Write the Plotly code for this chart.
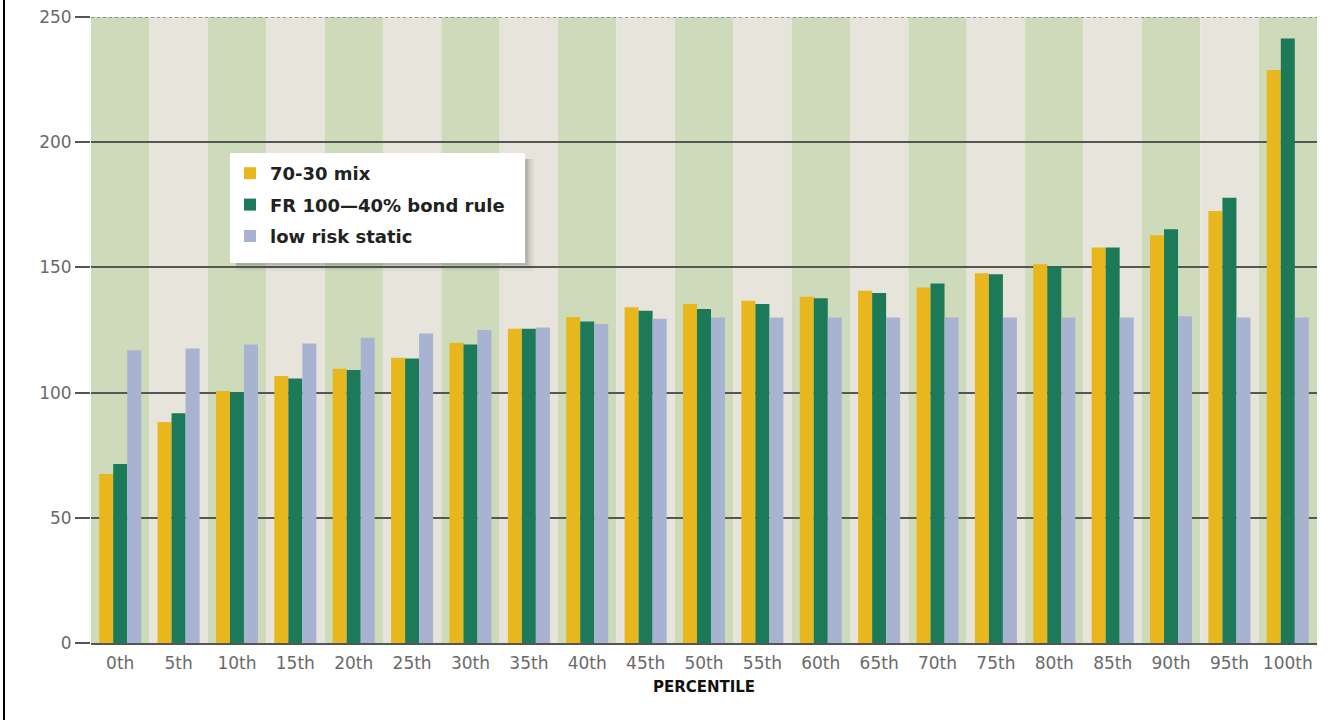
import plotly.graph_objects as go

# Percentile outcomes for three retirement strategies
percentiles = ["0th", "5th", "10th", "15th", "20th", "25th", "30th", "35th", "40th", "45th",
               "50th", "55th", "60th", "65th", "70th", "75th", "80th", "85th", "90th", "95th", "100th"]

mix_70_30 = [67.5, 88.3, 100.6, 106.6, 109.5, 113.9, 119.9, 125.5, 130.2, 134.1,
             135.4, 136.7, 138.3, 140.7, 142.0, 147.7, 151.3, 157.9, 162.8, 172.5, 228.8]
fr_100_40 = [71.5, 91.8, 100.0, 105.6, 109.0, 113.6, 119.2, 125.5, 128.4, 132.7,
             133.4, 135.4, 137.7, 139.8, 143.6, 147.3, 150.3, 157.9, 165.2, 177.8, 241.4]
low_risk_static = [116.9, 117.6, 119.2, 119.6, 121.9, 123.6, 125.0, 126.0, 127.4, 129.5,
                   130.0, 130.0, 130.0, 130.0, 130.0, 130.0, 130.0, 130.0, 130.5, 130.0, 130.0]

series_names = ["70-30 mix", "FR 100\u201440% bond rule", "low risk static"]
series_colors = ["#e8b71e", "#1d7a58", "#a7b3d1"]
series_values = [mix_70_30, fr_100_40, low_risk_static]

y_ticks = [0, 50, 100, 150, 200, 250]

band_green = "#cddbbb"
band_beige = "#e7e5db"
grid_color = "#555555"
tick_font = dict(family="DejaVu Sans", size=17, color="#6a6a6a")

# Plot-area geometry in pixels, used to place paper-referenced decorations
PL, PR, PT, PB = 91, 1317, 17, 643
PW, PH = PR - PL, PB - PT


def px_x(px):
    return (px - PL) / PW


def px_y(py):
    return (PB - py) / PH


fig = go.Figure()
for name, color, vals in zip(series_names, series_colors, series_values):
    fig.add_trace(go.Bar(
        x=percentiles, y=vals, name=name, marker=dict(color=color, line=dict(width=0)),
        legendgroup=name,
    ))

# Alternating vertical bands behind each percentile group
shapes = []
for i, _ in enumerate(percentiles):
    shapes.append(dict(
        type="rect", xref="x", yref="y", x0=i - 0.5, x1=i + 0.5, y0=0, y1=y_ticks[-1],
        fillcolor=band_green if i % 2 == 0 else band_beige, line=dict(width=0), layer="below",
    ))

# Lighter dotted rule along the top of the plot
shapes.append(dict(
    type="line", xref="paper", yref="y", x0=0, x1=1, y0=y_ticks[-1], y1=y_ticks[-1],
    line=dict(color="#7a7a7a", width=1.5, dash="dot"), layer="above",
))

# Legend panel: soft drop shadow, then a white card the legend sits on
LX0, LY0, LX1, LY1 = 230, 153, 525, 263
for dx, op in [(9, 0.05), (7, 0.07), (5, 0.09), (3, 0.12)]:
    shapes.append(dict(
        type="rect", xref="paper", yref="paper",
        x0=px_x(LX0 + 6), x1=px_x(LX1 + dx),
        y0=px_y(LY1 + dx - 1), y1=px_y(LY0 + 6),
        fillcolor=f"rgba(70,70,70,{op})", line=dict(width=0), layer="above",
    ))
shapes.append(dict(
    type="rect", xref="paper", yref="paper",
    x0=px_x(LX0), x1=px_x(LX1), y0=px_y(LY1), y1=px_y(LY0),
    fillcolor="#ffffff", line=dict(width=0), layer="above",
))

# Frame line at the left edge of the figure
shapes.append(dict(
    type="line", xref="paper", yref="paper", x0=px_x(4), x1=px_x(4),
    y0=px_y(720), y1=px_y(0), line=dict(color="#000000", width=2),
))

fig.update_layout(
    width=1338, height=720,
    margin=dict(l=PL, r=1338 - PR, t=PT, b=720 - PB, autoexpand=False),
    paper_bgcolor="#ffffff", plot_bgcolor="#ffffff",
    barmode="group", bargap=0.28, bargroupgap=0.0,
    shapes=shapes,
    showlegend=True,
    legend=dict(
        x=px_x(LX0), y=px_y(LY0 + 2), xanchor="left", yanchor="top",
        bgcolor="rgba(255,255,255,0)", borderwidth=0, traceorder="grouped", tracegroupgap=5,
        font=dict(family="DejaVu Sans", size=18, color="#222222", weight="bold"),
        itemclick=False,
    ),
    xaxis=dict(
        type="category", tickfont=tick_font, showgrid=False, ticks="",
        ticklabelstandoff=4, automargin=False,
        showline=True, linecolor=grid_color, linewidth=2,
        title=dict(text="PERCENTILE", standoff=9,
                   font=dict(family="DejaVu Sans", size=15, color="#111111", weight="bold")),
    ),
    yaxis=dict(
        range=[0, 250], tickvals=y_ticks, tickfont=tick_font, automargin=False,
        showgrid=True, gridcolor=grid_color, gridwidth=1.5,
        ticks="outside", ticklen=15, tickcolor=grid_color, tickwidth=1.5,
        zeroline=False, showline=False,
    ),
)

fig.write_html("out.html")
